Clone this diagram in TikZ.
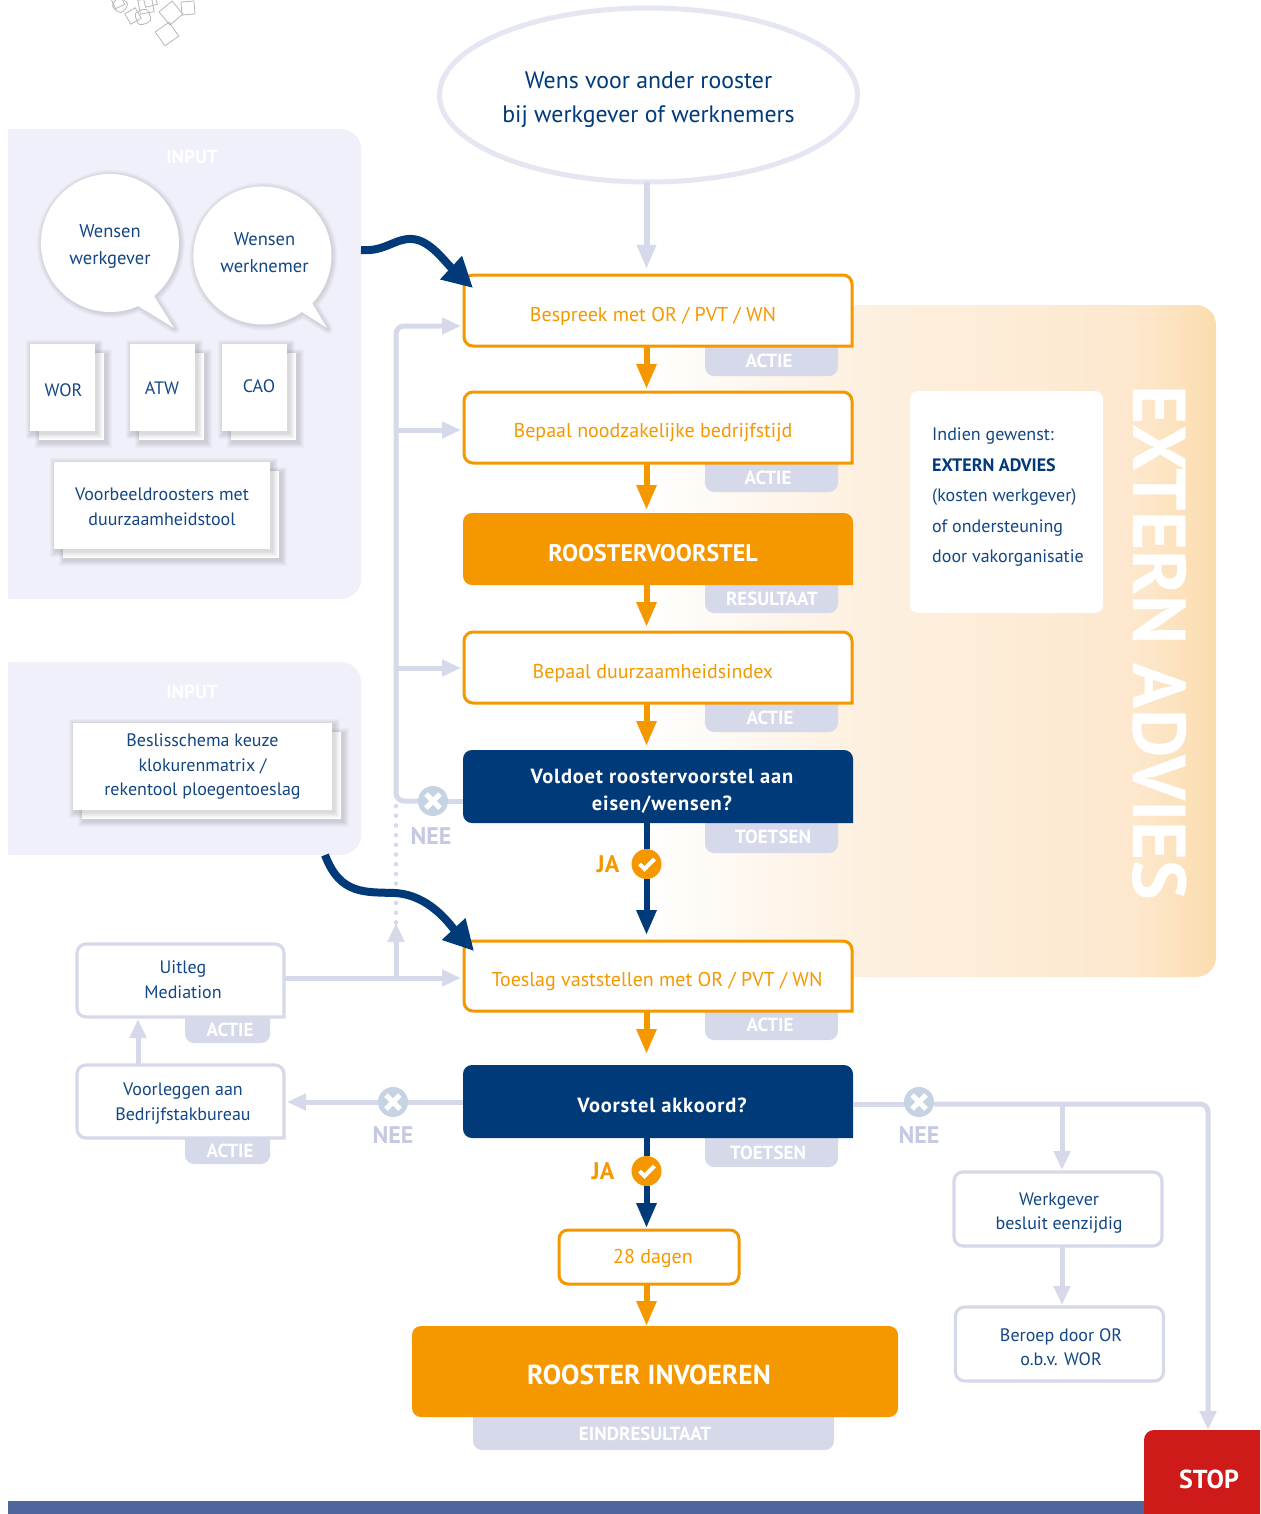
\documentclass[tikz,border=0pt]{standalone}
\usepackage{fontspec}
\setmainfont{PT Sans}
\usetikzlibrary{arrows.meta,calc,shapes.geometric}
\definecolor{orgc}{HTML}{F59800}
\definecolor{navyc}{HTML}{003A78}
\definecolor{txtc}{HTML}{134784}
\definecolor{lightc}{HTML}{D5D9EA}
\definecolor{panelc}{HTML}{EFF0F9}
\definecolor{ellc}{HTML}{E4E6F2}
\definecolor{neec}{HTML}{C5D3E2}
\definecolor{neetxt}{HTML}{C5CAE2}
\definecolor{stopc}{HTML}{CF1A1A}
\definecolor{barc}{HTML}{50659C}
\definecolor{exta}{HTML}{FDF0E0}
\definecolor{extb}{HTML}{FDE8CE}
\definecolor{extc}{HTML}{FBDCAE}
\pgfdeclarehorizontalshading{extshade}{100bp}{color(0bp)=(white); color(25bp)=(white); color(44bp)=(exta); color(68bp)=(extb); color(75bp)=(extc); color(100bp)=(extc)}
\tikzset{
 geom/.style={inner sep=0pt,outer sep=0pt,draw=none},
 lab/.style={inner sep=0pt,align=center,text=txtc,font=\fontsize{18}{24.5}\selectfont},
 otext/.style={inner sep=0pt,align=center,text=orgc,font=\fontsize{20}{24}\selectfont},
 wbold/.style={inner sep=0pt,align=center,text=white,font=\bfseries\fontsize{20.5}{27}\selectfont\addfontfeatures{LetterSpace=4}},
 tagtext/.style={inner sep=0pt,text=white,font=\bfseries\fontsize{19}{20}\selectfont},
 inputtext/.style={inner sep=0pt,text=white,font=\bfseries\fontsize{19}{20}\selectfont},
 neetext/.style={inner sep=0pt,text=neetxt,font=\bfseries\fontsize{24}{24}\selectfont},
 jatext/.style={inner sep=0pt,text=orgc,font=\bfseries\fontsize{24}{24}\selectfont},
 oline/.style={draw=orgc,line width=3pt,fill=white},
 gline/.style={draw=lightc,line width=3.2pt,fill=white},
 ofill/.style={fill=orgc},
 nfill/.style={fill=navyc},
 oarrow/.style={draw=orgc,line width=6pt,-{Triangle[length=25pt,width=19pt]}},
 narrow/.style={draw=navyc,line width=6pt,-{Triangle[length=25pt,width=19pt]}},
 nline/.style={draw=navyc,line width=6pt},
 garrow/.style={draw=lightc,line width=5pt,-{Triangle[length=19pt,width=16pt]}},
 gconn/.style={draw=lightc,line width=5pt},
 curve/.style={draw=navyc,line width=8pt,-{Triangle[length=30pt,width=30pt]}},
 dot/.style={circle,inner sep=0pt,minimum size=30pt,outer sep=0pt},
}
% box with three rounded corners (bottom right square)
\newcommand{\flowbox}[9]{%
 \node[geom,minimum width={(#4-#2)*1pt},minimum height={(#5-#3)*1pt}] (#1) at ({(#2+#4)/2},{(#3+#5)/2}) {};
 \path[#6] (#1.south east) [rounded corners=9pt] -- (#1.south west) -- (#1.north west) -- (#1.north east) [sharp corners] -- cycle;
 \node[#8] (#1t) at (#7) {#9};
}
% tag hanging under a box
\newcommand{\tagbox}[7]{%
 \node[geom,minimum width={(#4-#2)*1pt},minimum height={(#5-#3)*1pt}] (#1) at ({(#2+#4)/2},{(#3+#5)/2}) {};
 \fill[lightc] (#1.north west) [rounded corners=9pt] -- (#1.south west) -- (#1.south east) [sharp corners] -- (#1.north east) -- cycle;
 \node[tagtext] (#1t) at (#6) {#7};
}
\newcommand{\softrect}[4]{%
 \foreach \g in {6,5,4,3,2,1}{\fill[black,opacity=.022] ({#1-\g+2},{#2-\g+2}) rectangle ({#3+\g+2},{#4+\g+2});}
 \fill[white] ({#1},{#2}) rectangle ({#3},{#4});
}
% two stacked papers
\newcommand{\paper}[7]{%
 \softrect{#2+9}{#3+9}{#4+9}{#5+9}
 \softrect{#2}{#3}{#4}{#5}
 \node[geom,minimum width={(#4-#2)*1pt},minimum height={(#5-#3)*1pt}] (#1) at ({(#2+#4)/2},{(#3+#5)/2}) {};
 \node[lab] (#1t) at (#6) {#7};
}
\newcommand{\bubble}[6]{%
 \foreach \g in {10,8,6,4,2}{\path[draw=black,opacity=.022,line width=\g pt,line join=round,shift={(1,1)}] #2;}
 \fill[white] #2;
 \node[geom] (#1) at (#3) {};
 \node[lab,font=\fontsize{18.5}{27.5}\selectfont] (#1t) at (#4) {#5\\#6};
}
\newcommand{\neemark}[1]{%
 \fill[neec] (#1) circle[radius=15pt];
 \draw[white,line width=5pt] ([shift={(-7,-7)}]#1.center) -- ([shift={(7,7)}]#1.center);
 \draw[white,line width=5pt] ([shift={(-7,7)}]#1.center) -- ([shift={(7,-7)}]#1.center);
}
\newcommand{\jamark}[1]{%
 \fill[orgc] (#1) circle[radius=15pt];
 \draw[white,line width=4pt] ([shift={(-7,0)}]#1.center) -- ([shift={(-2,5)}]#1.center) -- ([shift={(8,-5)}]#1.center);
}
\begin{document}
\begin{tikzpicture}[x=1pt,y=-1pt]
\useasboundingbox (0,0) rectangle (1260,1514);
\fill[white] (0,0) rectangle (1260,1514);

% scribble
\begin{scope}[draw=black!28,line width=.8pt]
\foreach \cx/\cy/\s/\r/\c in {171/13/17/40/0,188/8/13/5/0,167/34/17/35/0,133/16/12/30/0,120/5/13/50/4,143/17/14/20/4,146/6/14/10/0,118/2/10/25/0,150/0/12/15/0}{
 \draw[shift={(\cx,\cy)},rotate=\r,rounded corners=\c pt] (-\s/2,-\s/2) rectangle (\s/2,\s/2);}
\end{scope}

% extern advies panel
\path[shading=extshade] (640,305) -- (1196,305) arc[start angle=90,end angle=0,x radius=20,y radius=-20] -- (1216,957) arc[start angle=0,end angle=-90,x radius=20,y radius=-20] -- (640,977) -- cycle;
\node[geom,rotate=-90,text=white,font=\bfseries\fontsize{75}{75}\selectfont] (extlabel) at (1160,643) {EXTERN ADVIES};
\node[geom,fill=white,rounded corners=8pt,minimum width=193pt,minimum height=222pt] (advbox) at (1006.5,502) {};
\node[lab,align=left,anchor=north west,font=\fontsize{18}{30.5}\selectfont] (advt) at (932,428) {Indien gewenst:\\\textcolor{navyc}{\bfseries EXTERN ADVIES}\\(kosten werkgever)\\of ondersteuning\\door vakorganisatie};

% input panels
\fill[panelc] (8,129) -- (341,129) arc[start angle=90,end angle=0,x radius=20,y radius=-20] -- (361,579) arc[start angle=0,end angle=-90,x radius=20,y radius=-20] -- (8,599) -- cycle;
\coordinate (pan1out) at (361,250);
\node[inputtext] (inp1) at (192,157) {INPUT};
\fill[panelc] (8,662) -- (341,662) arc[start angle=90,end angle=0,x radius=20,y radius=-20] -- (361,835) arc[start angle=0,end angle=-90,x radius=20,y radius=-20] -- (8,855) -- cycle;
\coordinate (pan2out) at (325,855);
\node[inputtext] (inp2) at (192,692) {INPUT};

% bubbles
\bubble{bub1}{(138,306) arc[start angle=-66,end angle=-411,radius=69pt] -- (154,296) -- (174,328) -- cycle}{110,242}{110,246.5}{Wensen}{werkgever}
\bubble{bub2}{(302,312) arc[start angle=-55,end angle=-404,radius=69pt] -- (312,303) -- (327,328) -- cycle}{262,254}{264.5,252.5}{Wensen}{werknemer}

% papers
\paper{wor}{30}{344}{95}{431}{63.5,390}{WOR}
\paper{atw}{130}{344}{195}{431}{162,388}{ATW}
\paper{cao}{222}{344}{287}{431}{259,386}{CAO}
\paper{voorb}{54}{462}{270}{549}{162,507}{Voorbeeldroosters met\\duurzaamheidstool}
\paper{besl}{73}{723}{332}{810}{202.5,767}{\fontsize{18}{23}\selectfont Beslisschema keuze\\klokurenmatrix /\\rekentool ploegentoeslag}

% tags
\tagbox{t1}{705}{340}{838}{376}{769,361}{ACTIE}
\tagbox{t2}{705}{457}{838}{492}{768,478}{ACTIE}
\tagbox{t3}{705}{580}{838}{613}{772,599}{RESULTAAT}
\tagbox{t4}{705}{697}{838}{732}{770,718}{ACTIE}
\tagbox{t5}{705}{818}{838}{853}{773,837}{TOETSEN}
\tagbox{t6}{705}{1005}{838}{1040}{770,1025}{ACTIE}
\tagbox{t7}{705}{1132}{838}{1167}{768,1153}{TOETSEN}
\tagbox{t8}{473}{1410}{834}{1450}{645,1434}{EINDRESULTAAT}
\tagbox{t9}{185}{1012}{270}{1043}{230,1030}{ACTIE}
\tagbox{t10}{185}{1133}{270}{1164}{230,1151}{ACTIE}

% start ellipse
\node[geom,ellipse,draw=ellc,line width=5pt,minimum width=418pt,minimum height=174pt,fill=white] (start) at (648.5,95) {};
\node[lab,text=navyc,font=\fontsize{23.8}{34}\selectfont] (startt) at (648.5,100) {Wens voor ander rooster\\bij werkgever of werknemers};

% main boxes
\flowbox{b1}{464}{275}{852}{346}{oline}{653,316}{otext}{Bespreek met OR / PVT / WN}
\flowbox{b2}{464}{392}{852}{463}{oline}{653,433}{otext}{Bepaal noodzakelijke bedrijfstijd}
\flowbox{b3}{463}{513}{853}{585}{ofill}{653,553}{wbold,font=\bfseries\fontsize{24}{26}\selectfont}{ROOSTERVOORSTEL}
\flowbox{b4}{464}{632}{852}{703}{oline}{653,673}{otext}{Bepaal duurzaamheidsindex}
\flowbox{b5}{463}{750}{853}{823}{nfill}{662,791.5}{wbold}{Voldoet roostervoorstel aan\\eisen/wensen?}
\flowbox{b6}{464}{941}{852}{1011}{oline}{657,981}{otext}{Toeslag vaststellen met OR / PVT / WN}
\flowbox{b7}{463}{1065}{853}{1138}{nfill}{662,1105}{wbold}{Voorstel akkoord?}

\node[geom,minimum width=180pt,minimum height=54pt] (b8) at (649,1257) {};
\draw[oline,rounded corners=9pt] (b8.south east) rectangle (b8.north west);
\node[otext] (b8t) at (653,1258) {28 dagen};
\node[geom,fill=orgc,rounded corners=9pt,minimum width=486pt,minimum height=91pt] (b9) at (655,1371.5) {};
\node[wbold,font=\bfseries\fontsize{27.5}{30}\selectfont] (b9t) at (649,1375) {ROOSTER INVOEREN};

\flowbox{uit}{77}{944}{284}{1017}{gline}{183,979.5}{lab}{Uitleg\\Mediation}
\flowbox{voor}{77}{1065}{284}{1138}{gline}{183,1103.5}{lab}{Voorleggen aan\\Bedrijfstakbureau}
\node[geom,minimum width=208pt,minimum height=74pt] (wg) at (1058,1209) {};
\draw[gline,rounded corners=9pt] (wg.south east) rectangle (wg.north west);
\node[lab] (wgt) at (1059,1213) {Werkgever\\besluit eenzijdig};
\node[geom,minimum width=208pt,minimum height=74pt] (ber) at (1059.5,1344) {};
\draw[gline,rounded corners=9pt] (ber.south east) rectangle (ber.north west);
\node[lab] (bert) at (1061,1347) {Beroep door OR\\o.b.v. WOR};

% bottom bar and stop
\fill[barc] (8,1501) rectangle (1144,1514);
\node[geom,minimum width=116pt,minimum height=84pt] (stop) at (1202,1472) {};
\path[fill=stopc] (stop.south east) -- (stop.south west) [rounded corners=10pt] -- (stop.north west) [sharp corners] -- (stop.north east) -- cycle;
\node[wbold,font=\bfseries\fontsize{26}{30}\selectfont] (stopt) at (1209,1479) {STOP};

% marks
\node[dot] (n1) at (433,801) {};
\node[dot] (n2) at (393,1102) {};
\node[dot] (n3) at (919,1102) {};
\node[dot] (j1) at (646.5,864) {};
\node[dot] (j2) at (646.5,1171) {};
\node[neetext] (n1t) at (431,836) {NEE};
\node[neetext] (n2t) at (393,1135) {NEE};
\node[neetext] (n3t) at (919,1135) {NEE};
\node[jatext] (j1t) at (608,864) {JA};
\node[jatext] (j2t) at (603,1171) {JA};

% helper coordinates
\coordinate (ax) at (646.5,0);
\coordinate (gx) at (138,0);
\coordinate (rowA) at (0,326);
\coordinate (rowB) at (0,430);
\coordinate (rowC) at (0,668);
\coordinate (rowD) at (0,978);
\coordinate (jnA) at (396,430);
\coordinate (jnB) at (396,668);
\coordinate (jnD) at (396,978);
\coordinate (upTip) at (396,923);
\coordinate (dotTop) at (396,806);
\coordinate (corner) at (396,801);
\coordinate (jnR) at (1062,1104);
\coordinate (cornerR) at (1208,1104);

% feedback lines
\draw[gconn] (b5.west |- n1) -- (n1);
\draw[garrow,rounded corners=8pt,shorten >=3pt] (n1) -- (corner) -- (jnA |- rowA) -- (b1.west |- rowA);
\draw[garrow,shorten >=3pt] (jnA) -- (b2.west |- rowB);
\draw[garrow,shorten >=3pt] (jnB) -- (b4.west |- rowC);
\draw[draw=lightc,line width=4.5pt,line cap=round,dash pattern=on 0pt off 9.7pt] (dotTop) -- (upTip);
\draw[garrow] (jnD) -- (upTip);
\draw[garrow,shorten >=3pt] (uit.east |- rowD) -- (b6.west |- rowD);
\draw[garrow,shorten >=2pt] (voor.north -| gx) -- (uit.south -| gx);
\draw[gconn] (b7.west |- n2) -- (n2);
\draw[garrow,shorten >=3pt] (n2) -- (voor.east |- n2);
\draw[gconn] (b7.east |- cornerR) -- (cornerR -| n3);
\draw[garrow,rounded corners=8pt] (n3.east |- cornerR) -- (cornerR) -- (stop.north -| cornerR);
\draw[garrow,shorten >=2pt] (jnR) -- (wg.north -| jnR);
\draw[garrow,shorten >=2pt] (wg.south -| jnR) -- (ber.north -| jnR);
\neemark{n1}
\neemark{n2}
\neemark{n3}

% main flow
\draw[draw=lightc,line width=6pt,-{Triangle[length=24pt,width=18pt]},shorten >=6pt] (start.south -| ax) -- (b1.north -| ax);
\draw[oarrow,shorten >=3pt] (b1.south -| ax) -- (b2.north -| ax);
\draw[oarrow,shorten >=3pt] (b2.south -| ax) -- (b3.north -| ax);
\draw[oarrow,shorten >=5pt] (b3.south -| ax) -- (b4.north -| ax);
\draw[oarrow,shorten >=4pt] (b4.south -| ax) -- (b5.north -| ax);
\draw[nline] (b5.south -| ax) -- (j1);
\draw[narrow,shorten >=6pt] (j1) -- (b6.north -| ax);
\draw[oarrow,shorten >=11pt] (b6.south -| ax) -- (b7.north -| ax);
\draw[nline] (b7.south -| ax) -- (j2);
\draw[narrow,shorten >=2pt] (j2) -- (b8.north -| ax);
\draw[oarrow,shorten >=0pt] (b8.south -| ax) -- (b9.north -| ax);
\jamark{j1}
\jamark{j2}

% curved inputs
\draw[curve] (pan1out) .. controls (385,252) and (395,238) .. (412,239) .. controls (430,240) and (445,262) .. ([shift={(9,13)}]b1.north west);
\draw[curve] (pan2out) .. controls (340,895) and (365,892) .. (395,893) .. controls (430,895) and (450,925) .. ([shift={(10,10)}]b6.north west);
\end{tikzpicture}
\end{document}
